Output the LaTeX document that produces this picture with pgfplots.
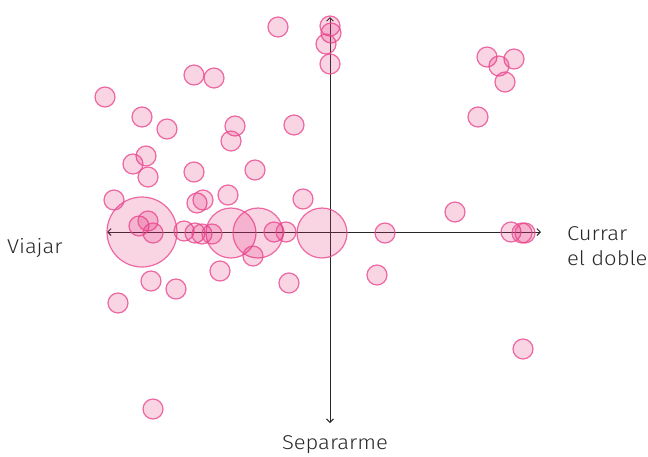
\documentclass[border=0pt]{standalone}
\usepackage{fontspec}
\setmainfont[FakeStretch=1.1]{Fira Sans Light}
\usepackage{pgfplots}
\pgfplotsset{compat=1.18}
\usetikzlibrary{arrows.meta}

\definecolor{bubline}{RGB}{234,72,142}
\definecolor{bubfill}{RGB}{226,44,122}
\definecolor{txt}{RGB}{40,40,40}

% bubble centres and radii, in pixels of the 648x456 frame (y downwards)
\pgfplotstableread{
x   y   r
142 232 35
231 233 25
258 233 25
322 233 25
278 27  10
330 26  10
331 33  10
326 44  10
330 64  10
487 57  10
514 59  10
499 66  10
505 82  10
194 75  10
214 78  10
105 97  10
142 117 10
167 129 10
235 126 10
231 141 10
294 125 10
478 117 10
146 156 10
133 164 10
148 177 10
194 172 10
255 170 10
114 200 10
197 203 10
203 200 10
228 195 10
303 199 10
455 212 10
139 226 10
148 221 10
153 233 10
184 231 10
195 233 10
202 234 10
212 234 10
253 256 10
274 232 10
286 232 10
385 233 10
511 232 10
522 233 10
525 233 10
220 271 10
151 281 10
176 289 10
118 303 10
289 283 10
377 275 10
523 349 10
153 409 10
}\bubbles

\begin{document}
\begin{tikzpicture}
\begin{axis}[
    width=648pt, height=456pt,
    scale only axis,
    xmin=0, xmax=648,
    ymin=0, ymax=456,
    y dir=reverse,
    hide axis,
    clip=false,
]
\addplot[
    scatter, only marks, mark=*,
    scatter/use mapped color={draw=bubline, fill=bubfill},
    mark options={line width=1.2pt, fill opacity=0.2, draw opacity=0.8},
    visualization depends on={\thisrow{r} \as \rad},
    scatter/@pre marker code/.append style={/tikz/mark size=\rad},
] table[x=x, y=y] {\bubbles};

\draw[txt, line width=0.9pt, {Straight Barb[length=3.5pt,width=7pt]}-{Straight Barb[length=3.5pt,width=7pt]}]
    (axis cs:107,232) -- (axis cs:541,232);
\draw[txt, line width=0.9pt, {Straight Barb[length=3.5pt,width=7pt]}-{Straight Barb[length=3.5pt,width=7pt]}]
    (axis cs:330,17) -- (axis cs:330,423);

\node[txt, anchor=base west, inner sep=0pt, font=\fontsize{20}{24}\selectfont] at (axis cs:7,253) {Viajar};
\node[txt, anchor=base west, inner sep=0pt, font=\fontsize{20}{24}\selectfont] at (axis cs:567,240) {Currar};
\node[txt, anchor=base west, inner sep=0pt, font=\fontsize{20}{24}\selectfont] at (axis cs:567,265) {el doble};
\node[txt, anchor=base, inner sep=0pt, font=\fontsize{20}{24}\selectfont] at (axis cs:335,449) {Separarme};

\coordinate (ll) at (axis cs:0,456);
\coordinate (ur) at (axis cs:648,0);
\end{axis}
\pgfresetboundingbox
\useasboundingbox (ll) rectangle (ur);
\end{tikzpicture}
\end{document}
